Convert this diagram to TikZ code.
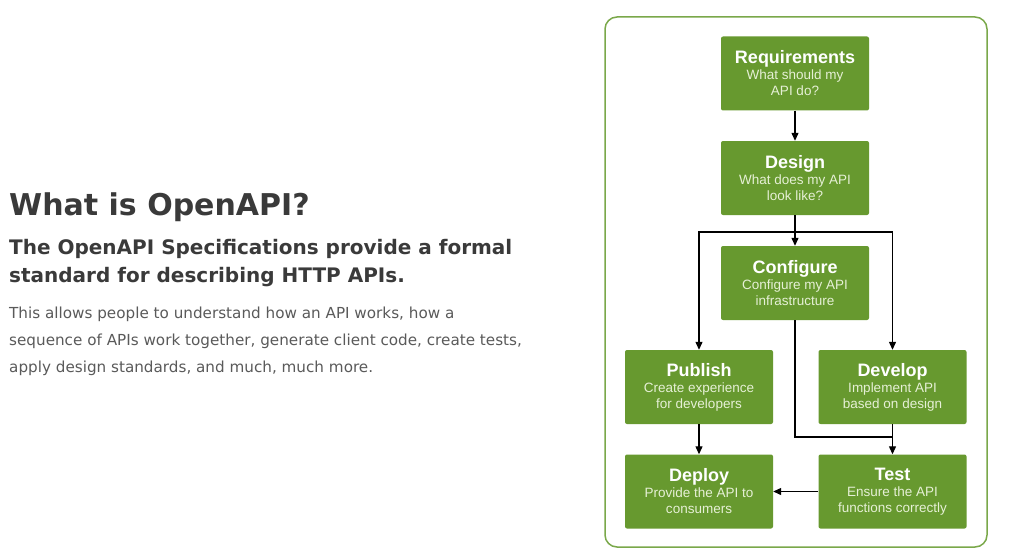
\documentclass[tikz,border=0pt]{standalone}
\usepackage{fontspec}
\setmainfont{DejaVu Sans}
\newfontfamily\boxfont{Liberation Sans}
\usetikzlibrary{arrows.meta}
\definecolor{gbox}{HTML}{67992F}
\definecolor{gframe}{HTML}{7AA84A}
\definecolor{tdark}{HTML}{3A3A3A}
\definecolor{tgray}{HTML}{5A5A5A}
\definecolor{sub}{HTML}{E6F0D6}
\newcommand{\bxt}[1]{{\color{white}\bfseries\fontsize{18}{24}\selectfont #1}}
\begin{document}
\begin{tikzpicture}[x=1pt,y=-1pt,
  box/.style={fill=gbox,rounded corners=2pt,minimum width=148pt,minimum height=74pt,inner sep=0pt,align=center,text=sub,font=\boxfont\fontsize{13.5}{16}\selectfont},
  arr/.style={-{Triangle[length=8pt,width=7pt]},line width=1.2pt,black},
  ln/.style={line width=1.2pt,black},
  txt/.style={anchor=base west,inner sep=0pt}]
\useasboundingbox (0,0) rectangle (1024,559);
\fill[white] (0,0) rectangle (1024,559);
\node[txt,text=tdark,font=\bfseries\fontsize{30}{36}\selectfont] (t) at (9,215) {What is OpenAPI?};
\node[txt,text=tdark,font=\bfseries\fontsize{20}{28}\selectfont] (s1) at (9,254) {The OpenAPI Specifications provide a formal};
\node[txt,text=tdark,font=\bfseries\fontsize{20}{28}\selectfont] (s2) at (9,282) {standard for describing HTTP APIs.};
\node[txt,text=tgray,font=\fontsize{15.2}{27}\selectfont] (b1) at (9,318) {This allows people to understand how an API works, how a};
\node[txt,text=tgray,font=\fontsize{15.2}{27}\selectfont] (b2) at (9,345) {sequence of APIs work together, generate client code, create tests,};
\node[txt,text=tgray,font=\fontsize{15.2}{27}\selectfont] (b3) at (9,372) {apply design standards, and much, much more.};
\draw[gframe,line width=1.5pt,rounded corners=12pt] (605,17) rectangle (987,547);
\node[box] (req) at (795,73.5) {\bxt{Requirements}\\What should my\\API do?};
\node[box] (des) at (795,178) {\bxt{Design}\\What does my API\\look like?};
\node[box] (con) at (795,283) {\bxt{Configure}\\Configure my API\\infrastructure};
\node[box] (pub) at (699,387) {\bxt{Publish}\\Create experience\\for developers};
\node[box] (dev) at (892.5,387) {\bxt{Develop}\\Implement API\\based on design};
\node[box] (dep) at (699,491.5) {\bxt{Deploy}\\Provide the API to\\consumers};
\node[box] (tst) at (892.5,491.5) {\bxt{Test}\\Ensure the API\\functions correctly};
\coordinate (j) at (795,232);
\coordinate (jl) at (699,232);
\coordinate (jr) at (892.5,232);
\coordinate (k) at (795,437);
\coordinate (kr) at (892.5,437);
\draw[arr] (req) -- (des);
\draw[ln] (des) -- (j);
\draw[arr] (j) -- (con);
\draw[arr] (j) -- (jl) -- (pub);
\draw[arr] (j) -- (jr) -- (dev);
\draw[ln] (con) -- (k) -- (kr);
\draw[arr] (dev) -- (tst);
\draw[arr] (pub) -- (dep);
\draw[arr] (tst) -- (dep);
\end{tikzpicture}
\end{document}
